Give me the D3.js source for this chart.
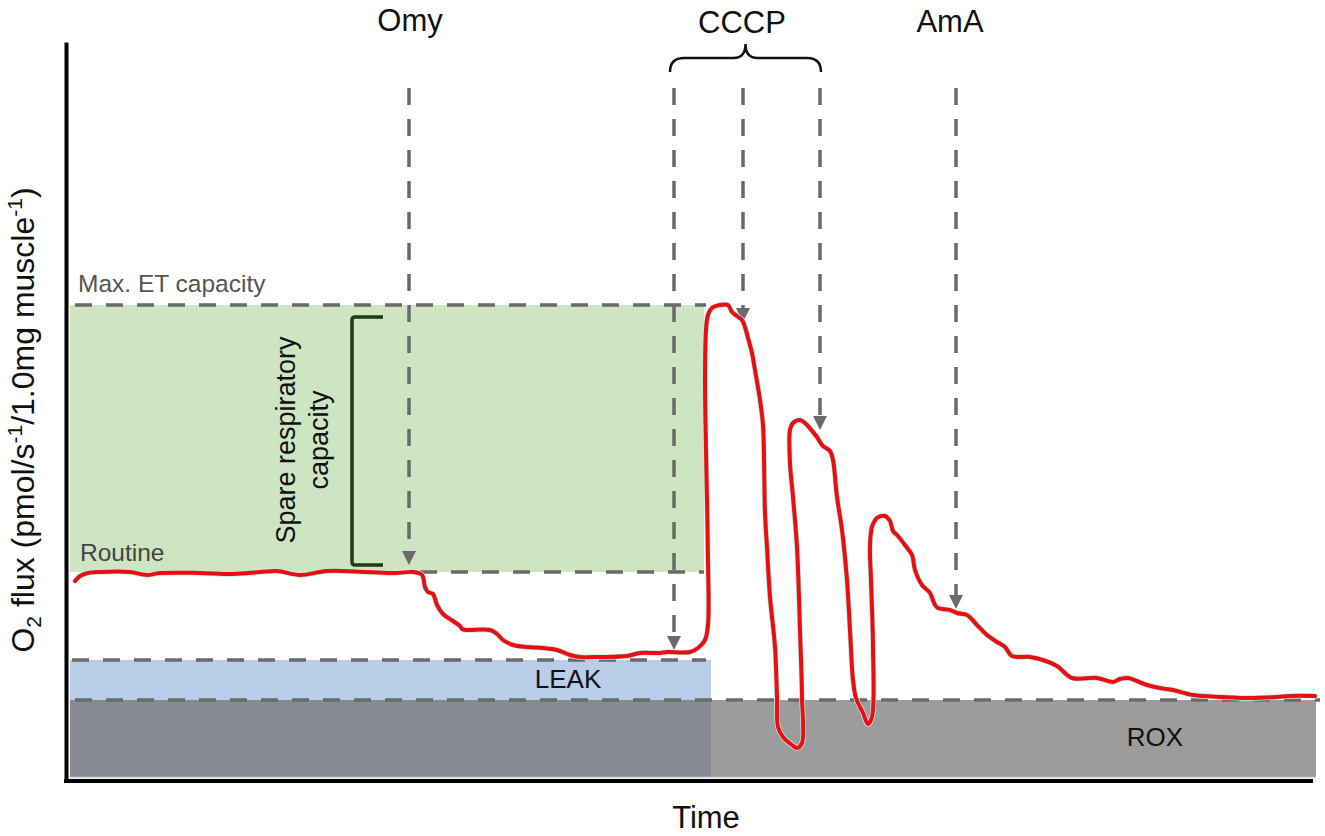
<!DOCTYPE html>
<html>
<head>
<meta charset="utf-8">
<script src="https://cdn.jsdelivr.net/npm/d3@7"></script>
<style>
  html, body { margin: 0; padding: 0; background: #fff; }
  svg { display: block; font-family: "Liberation Sans", Arial, Helvetica, sans-serif; }
</style>
</head>
<body>
<svg id="chart" width="1325" height="836"></svg>
<script>
// ---- Data (time in arbitrary units, O2 flux in arbitrary units) ----
const traceTime = [5,10,18,30,60,77,90,130,163,190,207,230,257,297,325,343,352,355,358,363,367,373,383,390,392,397,420,427,433,443,457,473,487,500,510,530,557,570,590,597,620,628,635,638,638,636,635,636,638,642,650,658,662,667,672,675,678,682,685,690,693,695,697,700,705,707,708,713,722,727,732,732,730,727,723,720,720,723,730,737,743,747,750,753,760,763,767,772,777,780,783,786,793,798,802,803,801,800,802,807,815,820,823,827,835,842,845,852,860,865,868,880,887,897,907,917,927,935,942,960,973,987,1002,1027,1043,1050,1058,1077,1090,1103,1123,1153,1180,1207,1220,1245];
const traceFlux = [197,202,205,206,206,203,205,205,204,206,207,203,207,206,205,206,203,191,186,184,173,164,157,152,149,148,148,144,138,133,131,130,128,123,121,121,122,125,125,126,126,130,138,153,218,328,398,448,463,470,473,473,466,462,458,451,440,425,408,378,353,265,231,181,131,81,51,41,33,30,35,81,148,231,281,315,348,355,358,353,346,341,336,332,327,318,281,248,198,148,98,80,65,54,61,131,198,231,251,260,262,257,247,243,233,223,208,193,185,173,170,168,165,163,153,143,136,131,122,121,118,112,100,100,96,99,100,93,90,88,83,81,80,81,82,82];

const levelNames  = ["Max. ET capacity", "Routine", "LEAK", "ROX"];
const levelValues = [473, 206, 118, 78];

const injectionLabels = ["Omy", "CCCP", "CCCP", "CCCP", "AmA"];
const injectionTime   = [339, 604, 673, 750, 886];
const injectionFlux   = [213, 128, 456, 348, 169];
const injectionTop    = 690;

const phaseEnd = 641;      // time at which CCCP phase starts (region split)
const timeMax  = 1246;

// ---- Scales ----
const x = d3.scaleLinear().domain([-4, timeMax]).range([66, 1316]);
const y = d3.scaleLinear().domain([-4, 736]).range([782, 42]);

const svg = d3.select("#chart");
const g = svg.append("g");

// ---- Background regions ----
g.append("rect")
  .attr("x", x(0)).attr("width", x(634) - x(0))
  .attr("y", y(levelValues[0])).attr("height", y(levelValues[1]) - y(levelValues[0]))
  .attr("fill", "#cee5c2");
g.append("rect")
  .attr("x", x(0)).attr("width", x(phaseEnd) - x(0))
  .attr("y", y(levelValues[2])).attr("height", y(levelValues[3]) - y(levelValues[2]))
  .attr("fill", "#b9cce8");
g.append("rect")
  .attr("x", x(0)).attr("width", x(phaseEnd) - x(0))
  .attr("y", y(levelValues[3])).attr("height", y(1) - y(levelValues[3]))
  .attr("fill", "#878a91");
g.append("rect")
  .attr("x", x(phaseEnd)).attr("width", x(timeMax) - x(phaseEnd))
  .attr("y", y(levelValues[3])).attr("height", y(1) - y(levelValues[3]))
  .attr("fill", "#9c9c9c");
g.append("line")
  .attr("x1", x(0)).attr("x2", x(timeMax)).attr("y1", y(1) + 0.5).attr("y2", y(1) + 0.5)
  .attr("stroke", "#d8d8d8").attr("stroke-width", 1.5);

// ---- Dashed level lines ----
const dashColor = "#6a6a6a";
const dash = "17,14";
const levelLines = [
  [5, 636, levelValues[0]],
  [350, 634, levelValues[1]],
  [2, 636, levelValues[2]],
  [5, 1250, levelValues[3]]
];
g.selectAll(".lvl").data(levelLines).enter().append("line")
  .attr("class", "lvl")
  .attr("x1", d => x(d[0])).attr("x2", d => x(d[1]))
  .attr("y1", d => y(d[2])).attr("y2", d => y(d[2]))
  .attr("stroke", dashColor).attr("stroke-width", 3.5)
  .attr("stroke-dasharray", dash);

// ---- Injection arrows ----
injectionTime.forEach((t, i) => {
  const xi = x(t), yTip = y(injectionFlux[i]), yTop = y(injectionTop);
  g.append("line")
    .attr("x1", xi).attr("x2", xi)
    .attr("y1", yTop).attr("y2", yTip - 12)
    .attr("stroke", dashColor).attr("stroke-width", 3.5)
    .attr("stroke-dasharray", dash);
  g.append("path")
    .attr("d", `M${xi - 7},${yTip - 14} L${xi + 7},${yTip - 14} L${xi},${yTip} Z`)
    .attr("fill", dashColor);
});

// ---- Trace ----
const pts = traceTime.map((t, i) => [t, traceFlux[i]]);
const line = d3.line()
  .x(d => x(d[0])).y(d => y(d[1]))
  .curve(d3.curveCatmullRom.alpha(0.5));
g.append("path")
  .datum(pts)
  .attr("d", line)
  .attr("fill", "none")
  .attr("stroke", "#b9f0e0")
  .attr("stroke-width", 5.5)
  .attr("stroke-linejoin", "round").attr("stroke-linecap", "round");
g.append("path")
  .datum(pts)
  .attr("d", line)
  .attr("fill", "none")
  .attr("stroke", "#ec0c12")
  .attr("stroke-width", 4)
  .attr("stroke-linejoin", "round").attr("stroke-linecap", "round");

// ---- Spare respiratory capacity bracket ----
const bx = 352, bTop = y(461), bBot = y(213), bEnd = 383;
g.append("path")
  .attr("d", `M${bEnd},${bTop} L${bx + 3},${bTop} Q${bx},${bTop} ${bx},${bTop + 3} L${bx},${bBot - 3} Q${bx},${bBot} ${bx + 3},${bBot} L${bEnd},${bBot}`)
  .attr("fill", "none").attr("stroke", "#1f3b13").attr("stroke-width", 3.5);

const spare = g.append("text")
  .attr("transform", `translate(295,${y(338)}) rotate(-90)`)
  .attr("text-anchor", "middle")
  .attr("font-size", 27).attr("fill", "#111");
spare.append("tspan").attr("x", 0).attr("y", 0).text("Spare respiratory");
spare.append("tspan").attr("x", 0).attr("y", 33).text("capacity");

// ---- CCCP brace ----
const b1 = x(600), b2 = x(751), bm = (b1 + b2) / 2;
g.append("path")
  .attr("d", `M${b1},72 Q${b1},58 ${b1 + 14},58 L${bm - 12},58 Q${bm},58 ${bm},44 Q${bm},58 ${bm + 12},58 L${b2 - 14},58 Q${b2},58 ${b2},72`)
  .attr("fill", "none").attr("stroke", "#111").attr("stroke-width", 2.5);

// ---- Injection labels ----
const topLabels = [["Omy", 340, 31], ["CCCP", 672, 33], ["AmA", 880, 32]];
g.selectAll(".inj").data(topLabels).enter().append("text")
  .attr("class", "inj")
  .attr("x", d => x(d[1])).attr("y", d => d[2])
  .attr("text-anchor", "middle")
  .attr("font-size", 31).attr("fill", "#111")
  .text(d => d[0]);

// ---- Level labels ----
g.append("text").attr("x", 78).attr("y", 292).attr("font-size", 24.5).attr("fill", "#555").text(levelNames[0]);
g.append("text").attr("x", 80).attr("y", 561).attr("font-size", 24.5).attr("fill", "#444").text(levelNames[1]);
g.append("text").attr("x", x(498)).attr("y", 688).attr("text-anchor", "middle").attr("font-size", 26).attr("fill", "#111").text(levelNames[2]);
g.append("text").attr("x", x(1085)).attr("y", 746).attr("text-anchor", "middle").attr("font-size", 26).attr("fill", "#111").text(levelNames[3]);

// ---- Axes ----
const yAxis = d3.axisLeft(y).tickValues([]).tickSizeOuter(0);
const xAxis = d3.axisBottom(x).tickValues([]).tickSizeOuter(0);
const ya = g.append("g").attr("transform", `translate(${x(-4)},0)`).call(yAxis);
const xa = g.append("g").attr("transform", `translate(0,${y(-3)})`).call(xAxis);
[ya, xa].forEach(a => a.select(".domain").attr("stroke", "#000").attr("stroke-width", 4));
xa.select(".domain").attr("d", `M${x(-4) - 2},0H${x(1243)}`);

// ---- Axis titles ----
g.append("text")
  .attr("x", x(636)).attr("y", 828)
  .attr("text-anchor", "middle").attr("font-size", 31).attr("fill", "#111")
  .text("Time");

const yl = g.append("text")
  .attr("transform", `translate(34,420) rotate(-90)`)
  .attr("text-anchor", "middle").attr("font-size", 32).attr("fill", "#111");
yl.append("tspan").text("O");
yl.append("tspan").attr("font-size", 21).attr("dy", 7).text("2");
yl.append("tspan").attr("dy", -7).text(" flux (pmol/s");
yl.append("tspan").attr("font-size", 21).attr("dy", -12).text("-1");
yl.append("tspan").attr("dy", 12).text("/1.0mg muscle");
yl.append("tspan").attr("font-size", 21).attr("dy", -12).text("-1");
yl.append("tspan").attr("dy", 12).text(")");
</script>
</body>
</html>
